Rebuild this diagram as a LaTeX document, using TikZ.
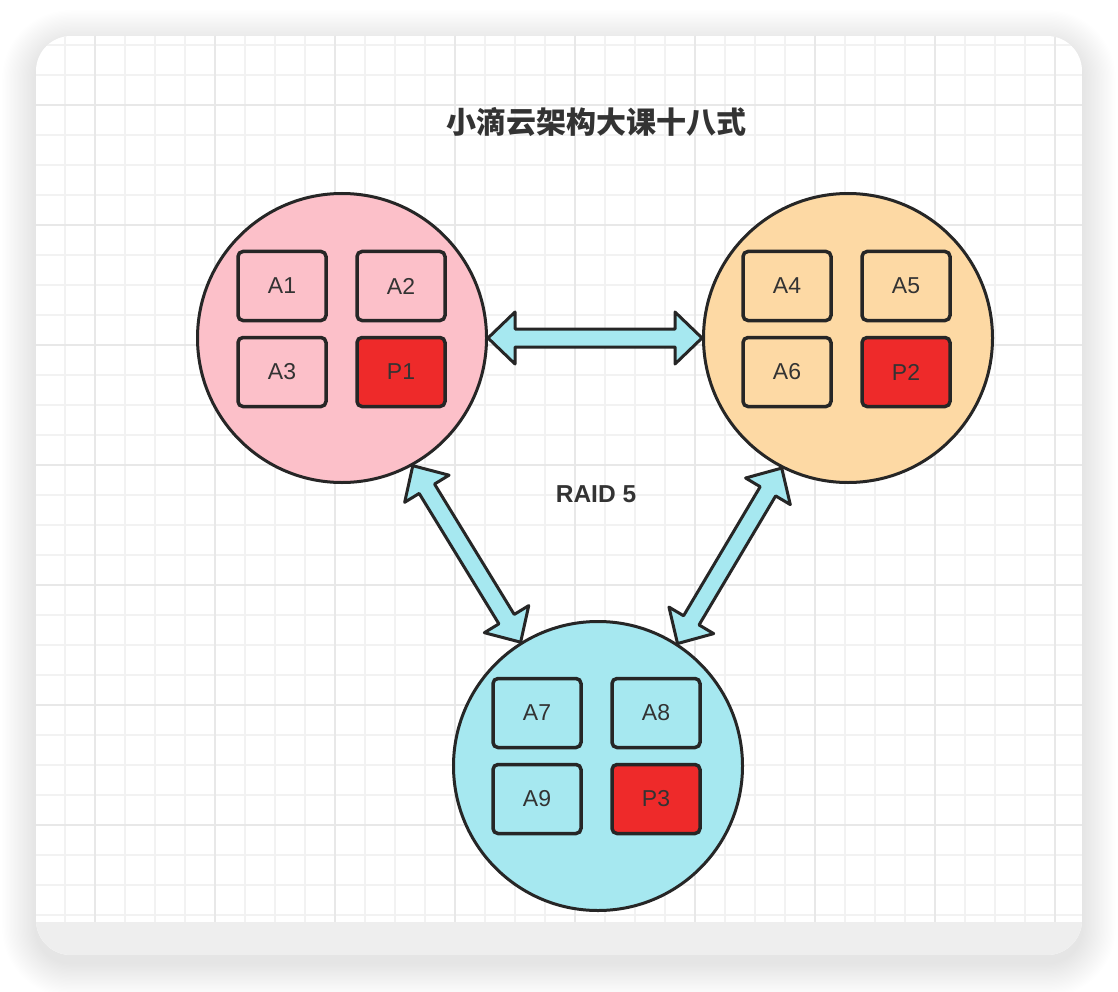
\documentclass[tikz,border=0pt]{standalone}
\usepackage{fontspec}
\setmainfont{Liberation Sans}
\newfontfamily\cjk{Noto Sans CJK SC}
\usetikzlibrary{calc}
\definecolor{ink}{HTML}{262626}
\definecolor{txt}{HTML}{333333}
\definecolor{pinkfill}{HTML}{FCC0C9}
\definecolor{peachfill}{HTML}{FDD9A4}
\definecolor{cyanfill}{HTML}{A6E8F0}
\definecolor{redfill}{HTML}{EE2A2A}
\definecolor{gridminor}{HTML}{F2F2F2}
\definecolor{gridmajor}{HTML}{E8E8E8}
\definecolor{strip}{HTML}{EEEEEE}
\tikzset{
  disk/.style={circle, draw=ink, line width=3pt, minimum size=289pt, inner sep=0pt},
  blk/.style={rectangle, rounded corners=5pt, draw=ink, line width=3.5pt, minimum width=88pt, minimum height=69pt, font=\fontsize{23}{23}\selectfont, text=txt},
  parity/.style={blk, fill=redfill},
  arrowbody/.style={draw=ink, line width=3pt, fill=cyanfill, line join=round},
  minorline/.style={draw=gridminor, line width=1.5pt},
  majorline/.style={draw=gridmajor, line width=2pt}
}
\newcommand\blockarrow[2]{%
  \path (#1) coordinate (ba1) (#2) coordinate (ba2);
  \coordinate (bh1) at ($(ba1)!27pt!(ba2)$);
  \coordinate (bh2) at ($(ba2)!27pt!(ba1)$);
  \draw[arrowbody] (ba1) -- ($(bh1)!26pt!90:(ba2)$) -- ($(bh1)!9pt!90:(ba2)$)
    -- ($(bh2)!9pt!-90:(ba1)$) -- ($(bh2)!26pt!-90:(ba1)$) -- (ba2)
    -- ($(bh2)!26pt!90:(ba1)$) -- ($(bh2)!9pt!90:(ba1)$)
    -- ($(bh1)!9pt!-90:(ba2)$) -- ($(bh1)!26pt!-90:(ba2)$) -- cycle;}
\begin{document}
\begin{tikzpicture}[x=1pt, y=-1pt]
\useasboundingbox (0,0) rectangle (1118,992);
\fill[white] (0,0) rectangle (1118,992);
% shadow
\foreach \i in {1,...,26} {
  \fill[black, opacity=0.0055, rounded corners={35pt+\i*1.3pt}]
    ({36-\i*1.3},{36-\i*1.3+8}) rectangle ({1082+\i*1.3},{955+\i*1.3+8});
}
% card
\begin{scope}
  \clip[rounded corners=35pt] (36,36) rectangle (1082,955);
  \fill[white] (36,36) rectangle (1082,955);
  \foreach \x in {65,95,...,1080} \draw[minorline] (\x,36) -- (\x,922);
  \foreach \y in {45,75,...,920} \draw[minorline] (36,\y) -- (1082,\y);
  \foreach \x in {95,215,...,1080} \draw[majorline] (\x,36) -- (\x,922);
  \foreach \y in {105,225,...,920} \draw[majorline] (36,\y) -- (1082,\y);
  \fill[strip] (36,922) rectangle (1082,955);
\end{scope}
% title
\node[font=\cjk\bfseries\fontsize{30}{30}\selectfont, text=txt] (title) at (596,122) {小滴云架构大课十八式};
\node[font=\bfseries\fontsize{24.5}{24.5}\selectfont, text=txt] (raid) at (596,494) {RAID 5};
% disks
\node[disk, fill=pinkfill] (d1) at (342,338) {};
\node[disk, fill=peachfill] (d2) at (848,338) {};
\node[disk, fill=cyanfill] (d3) at (598,766) {};
% blocks
\node[blk] (a1) at ($(d1)+(-60,-52)$) {A1};
\node[blk] (a2) at ($(d1)+(59,-52)$) {A2};
\node[blk] (a3) at ($(d1)+(-60,34)$) {A3};
\node[parity] (p1) at ($(d1)+(59,34)$) {P1};
\node[blk] (a4) at ($(d2)+(-61,-52)$) {A4};
\node[blk] (a5) at ($(d2)+(58,-52)$) {A5};
\node[blk] (a6) at ($(d2)+(-61,34)$) {A6};
\node[parity] (p2) at ($(d2)+(58,34)$) {P2};
\node[blk] (a7) at ($(d3)+(-61,-53)$) {A7};
\node[blk] (a8) at ($(d3)+(58,-53)$) {A8};
\node[blk] (a9) at ($(d3)+(-61,33)$) {A9};
\node[parity] (p3) at ($(d3)+(58,33)$) {P3};
% arrows
\blockarrow{d1.east}{d2.west}
\blockarrow{d1.299}{d3.122}
\blockarrow{d2.243}{d3.57}
\end{tikzpicture}
\end{document}
